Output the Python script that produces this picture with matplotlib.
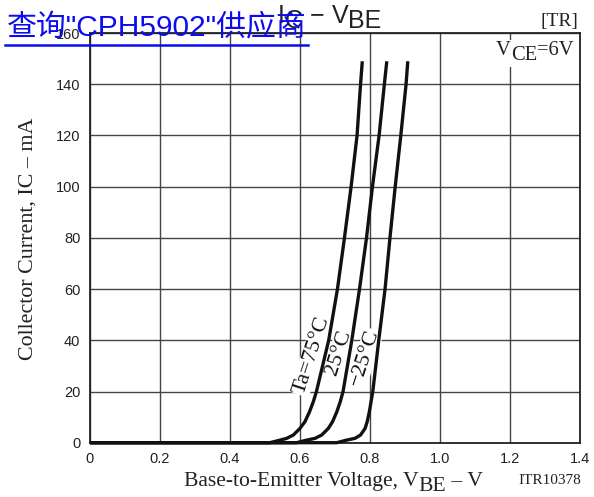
import matplotlib
matplotlib.use("Agg")
import matplotlib.pyplot as plt
from matplotlib.lines import Line2D
from matplotlib.patches import Rectangle

# ---- data ----
x_ticks = [0, 0.2, 0.4, 0.6, 0.8, 1.0, 1.2, 1.4]
x_tick_labels = ["0", "0.2", "0.4", "0.6", "0.8", "1.0", "1.2", "1.4"]
y_ticks = [0, 20, 40, 60, 80, 100, 120, 140, 160]

ic_ma = [0, 0, 1, 1.7, 3, 5.6, 8.2, 12, 16, 20, 40, 60, 80, 100, 120, 140, 149]
vbe_75 = [0, 0.514, 0.543, 0.562, 0.581, 0.600, 0.614, 0.627, 0.638, 0.647,
          0.682, 0.707, 0.727, 0.746, 0.763, 0.773, 0.778]
vbe_25 = [0, 0.590, 0.619, 0.643, 0.662, 0.681, 0.693, 0.705, 0.715, 0.723,
          0.748, 0.770, 0.790, 0.807, 0.826, 0.841, 0.848]
vbe_m25 = [0, 0.705, 0.733, 0.757, 0.773, 0.786, 0.792, 0.798, 0.803, 0.808,
           0.825, 0.843, 0.857, 0.872, 0.888, 0.903, 0.908]

curve_labels = ["Ta=75°C", "25°C", "\u221225°C"]
label_pos = [(0.633, 34), (0.711, 35), (0.786, 33)]

W, H = 594, 497
SERIF = "Liberation Serif"
SANS = "Liberation Sans"

fig = plt.figure(figsize=(W / 100, H / 100), dpi=100)
ax = fig.add_axes([90 / W, 1 - 442.7 / H, 490 / W, 409.6 / H])

for v in (vbe_75, vbe_25, vbe_m25):
    ax.plot(v, ic_ma, color="#111111", lw=2.4, clip_on=False, zorder=4,
            solid_capstyle="butt", solid_joinstyle="round")

ax.set_xlim(0, 1.4)
ax.set_ylim(0, 160)
ax.set_xticks(x_ticks)
ax.set_xticklabels(x_tick_labels)
ax.set_yticks(y_ticks)
ax.tick_params(length=0, labelsize=10.5, pad=7)
for lab in ax.get_xticklabels() + ax.get_yticklabels():
    lab.set_fontfamily(SANS)
    lab.set_color("#222222")
ax.set_axisbelow(True)
ax.grid(True, color="#444444", lw=1.0)
for sp in ax.spines.values():
    sp.set_linewidth(1.3)
    sp.set_color("#222222")

for (vx, iy), s in zip(label_pos, curve_labels):
    ax.text(vx, iy, s, rotation=72, ha="center", va="center",
            rotation_mode="anchor", fontsize=16, family=SERIF, color="#111111",
            zorder=3, bbox=dict(facecolor="white", edgecolor="none", pad=0.5))

renderer = fig.canvas.get_renderer()


def seg_text(x, y, parts, **kw):
    for s, dy in parts:
        t = fig.text(x / W, 1 - (y + dy) / H, s, va="baseline", ha="left", **kw)
        x += t.get_window_extent(renderer).width
    return x


# V_CE box
fig.add_artist(Rectangle((492 / W, 1 - 67 / H), 86 / W, 27 / H,
                         transform=fig.transFigure, facecolor="white",
                         edgecolor="none", zorder=2))
seg_text(496, 55, [("V", 0), ("CE", 5), ("=6V", 0)], family=SERIF,
         fontsize=14.8, color="#222222", zorder=3)

# [TR]
fig.text(578 / W, 1 - 26 / H, "[TR]", ha="right", va="baseline",
         family=SERIF, fontsize=14, color="#222222")

# title
seg_text(278, 23, [("I", 0), ("C", 5), (" \u2212 ", 0), ("V", 0), ("BE", 5)],
         family=SANS, fontsize=18, color="#222222")

# axis labels
fig.text(28 / W, 1 - 239 / H, "Collector Current, IC \u2013 mA", rotation=90,
         ha="center", va="center", family=SERIF, fontsize=15.8, color="#222222")
seg_text(184, 486, [("Base-to-Emitter Voltage, V", 0), ("BE", 5), (" \u2013 V", 0)],
         family=SERIF, fontsize=15.6, color="#222222")
fig.text(518 / W, 1 - 484 / H, "ITR10378", ha="left", va="baseline",
         family=SERIF, fontsize=11, color="#222222")

# blue link overlay
fig.text(7 / W, 1 - 36 / H, "查询\"CPH5902\"供应商", ha="left", va="baseline",
         family=[SANS, "Noto Sans CJK SC"], fontsize=21.5, color="#0c0cf0", zorder=5)
fig.add_artist(Line2D([5 / W, 308 / W], [1 - 45 / H, 1 - 45 / H],
                      transform=fig.transFigure, color="#0c0cf0", lw=1.8, zorder=5))

fig.savefig("out.png", dpi=100)
